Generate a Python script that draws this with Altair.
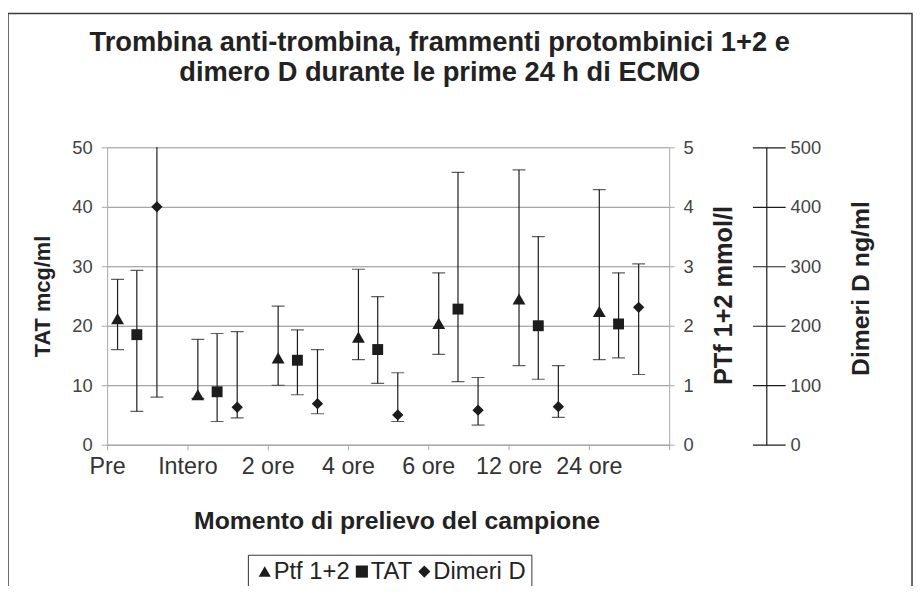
import json
import altair as alt
import pandas as pd

# ---------------- data ----------------
categories = ["Pre", "Intero", "2 ore", "4 ore", "6 ore", "12 ore", "24 ore"]
series_names = ["Ptf 1+2", "TAT", "Dimeri D"]

ptf_mean = [2.12, 0.84, 1.46, 1.81, 2.04, 2.45, 2.24]
ptf_low = [1.60, 0.78, 1.00, 1.43, 1.52, 1.33, 1.43]
ptf_high = [2.78, 1.77, 2.33, 2.95, 2.89, 4.62, 4.29]

tat_mean = [18.5, 8.9, 14.2, 16.0, 22.8, 20.0, 20.3]
tat_low = [5.6, 3.9, 8.4, 10.3, 10.6, 11.0, 14.6]
tat_high = [29.3, 18.7, 19.3, 24.9, 45.8, 35.0, 28.9]

dim_mean = [400, 63, 69, 50, 58, 64, 231]
dim_low = [80, 45, 52, 39, 33, 46, 118]
dim_high = [510, 190, 160, 121, 113, 133, 304]

tat_ticks = [0, 10, 20, 30, 40, 50]
ptf_ticks = [0, 1, 2, 3, 4, 5]
dim_ticks = [0, 100, 200, 300, 400, 500]
x_ticks = list(range(len(categories) + 1))

records = []
for name, means, lows, highs in zip(
    series_names,
    [ptf_mean, tat_mean, dim_mean],
    [ptf_low, tat_low, dim_low],
    [ptf_high, tat_high, dim_high],
):
    for i, cat in enumerate(categories):
        records.append({"cat": cat, "idx": i, "series": name,
                        "mean": means[i], "low": lows[i], "high": highs[i]})
df = pd.DataFrame(records)

# ---------------- styling ----------------
INK = "#1c1c1c"
GRID = "#8e8e8e"
LIGHT = "#a8a8a8"
FONT = "Liberation Sans"

base = alt.Chart(df).transform_calculate(
    xpos="datum.idx + (datum.series === 'Ptf 1+2' ? 0.13 : datum.series === 'TAT' ? 0.37 : 0.62)"
)

x_axis = alt.Axis(
    values=x_ticks,
    labelExpr=f"datum.value < {len(categories)} ? {json.dumps(categories)}[datum.value] : ''",
    grid=False, domainColor=LIGHT, tickColor=LIGHT, tickSize=5,
    labelFontSize=23.5, labelColor="#333", labelPadding=5,
    labelFlush=False, labelOverlap=False,
    title="Momento di prelievo del campione", titleFontSize=25,
    titleFontWeight="bold", titleColor="#222", titleX=292, titleY=65,
)
x_enc = alt.X("xpos:Q", scale=alt.Scale(domain=[0, 7], nice=False, zero=False), axis=x_axis)

shape_scale = alt.Scale(domain=series_names, range=["triangle-up", "square", "diamond"])
legend = alt.Legend(
    orient="none", legendX=142, legendY=411, direction="horizontal", title=None,
    strokeColor="#333", fillColor="white", padding=5,
    labelFontSize=24, labelColor="#222", labelFont=FONT,
    symbolSize=150, symbolFillColor=INK, symbolStrokeColor=INK, symbolStrokeWidth=0,
    columnPadding=0, labelOffset={"expr": "-3"},
)

tat_scale = alt.Scale(domain=[0, 50], nice=False, zero=True)
ptf_scale = alt.Scale(domain=[0, 5], nice=False, zero=True)
dim_scale = alt.Scale(domain=[0, 500], nice=False, zero=True)

tat_axis = alt.Axis(
    orient="left", values=tat_ticks, grid=True, gridColor=GRID, gridWidth=1,
    domainColor=LIGHT, tickColor=LIGHT, tickSize=6,
    labelFontSize=18.5, labelColor="#444", labelPadding=9,
    title="TAT mcg/ml", titleFontSize=22, titleFontWeight="bold", titleColor="#222",
    titleX=-65, titleY=150, titleAngle=270, titleBaseline="middle", titleAlign="center",
)
ptf_axis = alt.Axis(
    orient="right", values=ptf_ticks, grid=False,
    domainColor=LIGHT, tickColor=LIGHT, tickSize=5,
    labelFontSize=18.5, labelColor="#444", labelPadding=9,
    title="PTf 1+2 mmol/l", titleFontSize=25.5, titleFontWeight="bold", titleColor="#222",
    titleX=55, titleY=149, titleAngle=270, titleBaseline="middle", titleAlign="center",
)
dim_axis = alt.Axis(
    orient="right", offset=84, values=dim_ticks, grid=False, domain=False,
    tickColor=INK, tickSize=33, tickWidth=1.2,
    labelFontSize=18.5, labelColor="#444", labelPadding=5,
    title="Dimeri D ng/ml", titleFontSize=25, titleFontWeight="bold", titleColor="#222",
    titleX=109, titleY=142, titleAngle=270, titleBaseline="middle", titleAlign="center",
)
dim_line_axis = alt.Axis(
    orient="right", offset=98, values=dim_ticks, grid=False, domain=True,
    domainColor=INK, domainWidth=1.2, ticks=False, labels=False, title=None,
)


def series_layers(name, yscale, axis, size):
    b = base.transform_filter(alt.datum.series == name)
    rules = b.mark_rule(color=INK, strokeWidth=1.2, clip=True).encode(
        x=x_enc, y=alt.Y("low:Q", scale=yscale, axis=None), y2="high:Q")
    cap_lo = b.mark_tick(orient="horizontal", size=13, thickness=1.2, color=INK, clip=True).encode(
        x=x_enc, y=alt.Y("low:Q", scale=yscale, axis=None))
    cap_hi = b.mark_tick(orient="horizontal", size=13, thickness=1.2, color=INK, clip=True).encode(
        x=x_enc, y=alt.Y("high:Q", scale=yscale, axis=None))
    pts = b.mark_point(filled=True, size=size, opacity=1, color=INK).encode(
        x=x_enc, y=alt.Y("mean:Q", scale=yscale, axis=axis),
        shape=alt.Shape("series:N", scale=shape_scale, legend=legend))
    return [rules, cap_lo, cap_hi, pts]


dim_line = base.transform_filter(alt.datum.series == "Dimeri D").mark_point(opacity=0).encode(
    x=x_enc, y=alt.Y("mean:Q", scale=dim_scale, axis=dim_line_axis))

frame = alt.Chart(alt.Data(values=[{}])).mark_rect(
    fill="white", fillOpacity=0, stroke="#3a3a3a", strokeWidth=1.5
).encode(x=alt.value(-100), x2=alt.value(812), y=alt.value(-135), y2=alt.value(470))

layers = [frame]
layers += series_layers("TAT", tat_scale, tat_axis, 121)
layers += series_layers("Ptf 1+2", ptf_scale, ptf_axis, 169)
layers += series_layers("Dimeri D", dim_scale, dim_axis, 130)
layers.append(dim_line)

chart = alt.layer(*layers).resolve_scale(
    y="independent"
).properties(
    width=567, height=300,
    title=alt.Title(
        ["Trombina anti-trombina, frammenti protombinici 1+2 e",
         "dimero D durante le prime 24 h di ECMO"],
        fontSize=27.5, fontWeight="bold", color="#222", font=FONT,
        anchor="middle", frame="group", dx=52, offset=-74, lineHeight=30,
    ),
    autosize=alt.AutoSizeParams(type="none"),
    padding={"left": 100, "top": 138, "right": 247, "bottom": 140},
).configure(font=FONT).configure_view(stroke=None)

chart.save("out.html", embed_options={"renderer": "svg", "actions": False})
